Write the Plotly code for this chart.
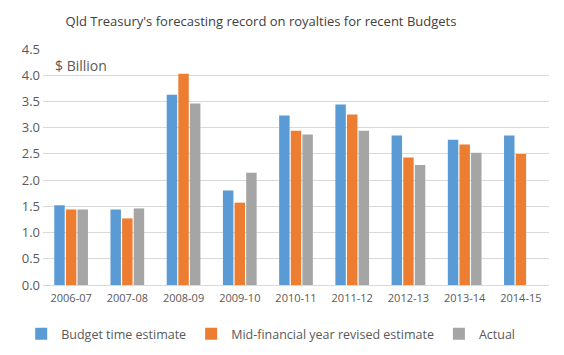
import plotly.graph_objects as go

categories = ["2006-07", "2007-08", "2008-09", "2009-10", "2010-11", "2011-12", "2012-13", "2013-14", "2014-15"]
budget = [1.52, 1.44, 3.63, 1.80, 3.23, 3.44, 2.85, 2.77, 2.85]
midyear = [1.44, 1.27, 4.03, 1.57, 2.94, 3.25, 2.43, 2.68, 2.50]
actual = [1.44, 1.46, 3.46, 2.14, 2.87, 2.94, 2.29, 2.52, None]
series_names = ["Budget time estimate", "Mid-financial year revised estimate", "Actual"]
colors = ["#5B9BD5", "#ED7D31", "#A5A5A5"]
y_ticks = [0, 0.5, 1.0, 1.5, 2.0, 2.5, 3.0, 3.5, 4.0, 4.5]

font_family = "Open Sans, Liberation Sans, sans-serif"

fig = go.Figure()
for name, vals, c in zip(series_names, [budget, midyear, actual], colors):
    fig.add_trace(go.Bar(x=categories, y=vals, name=name, marker=dict(color=c, line=dict(width=0))))

# page body has an 8px default margin, so the figure is drawn 8px smaller
fig.update_layout(
    width=556, height=347,
    margin=dict(l=35, r=15, t=41, b=70, autoexpand=False),
    paper_bgcolor="white", plot_bgcolor="white",
    barmode="group", bargap=0.38, bargroupgap=0.1,
    font=dict(family=font_family, color="#595959"),
    title=dict(text="Qld Treasury's forecasting record on royalties for recent Budgets",
               x=0.455, xanchor="center", y=1 - 13 / 347, yanchor="middle",
               font=dict(size=13, color="#404040")),
    legend=dict(orientation="h", x=0.45, xanchor="center", y=-0.145, yanchor="top",
                font=dict(size=12.5, color="#595959"), itemwidth=30, traceorder="normal",
                tracegroupgap=0),
    xaxis=dict(type="category", showline=True, linecolor="#D9D9D9", linewidth=1, ticks="",
               tickfont=dict(size=11, color="#595959"), ticklabelstandoff=3),
    yaxis=dict(range=[0, 4.5], tickvals=y_ticks, tickformat=".1f", showgrid=True,
               gridcolor="#D9D9D9", gridwidth=1, zeroline=False,
               tickfont=dict(size=13, color="#595959"), ticklabelstandoff=2),
    annotations=[dict(text="$ Billion", xref="paper", yref="paper", x=0.02, y=0.93,
                      xanchor="left", yanchor="middle", showarrow=False,
                      font=dict(size=14, color="#595959"))],
)

fig.write_html("out.html")
